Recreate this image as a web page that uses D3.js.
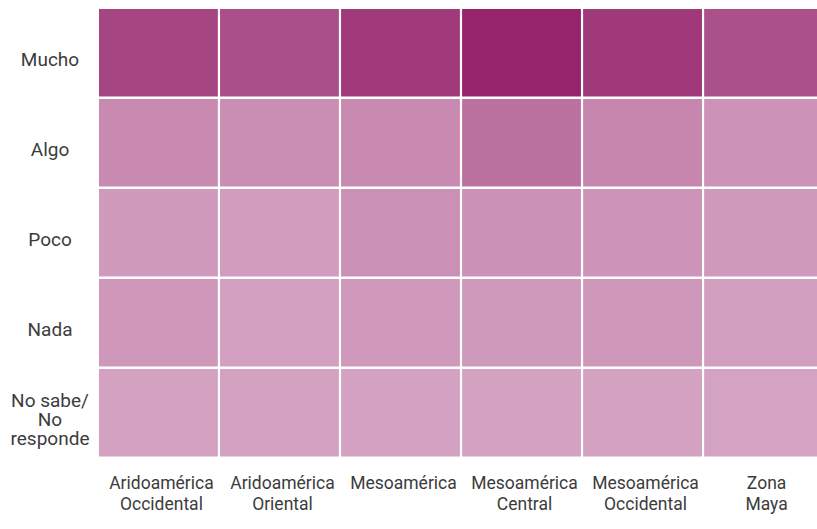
<!DOCTYPE html>
<html>
<head>
<meta charset="utf-8">
<script src="https://cdn.jsdelivr.net/npm/d3@7"></script>
<style>
  html, body { margin: 0; padding: 0; background: #fff; }
  svg { display: block; font-family: Roboto, "Noto Sans", sans-serif; }
</style>
</head>
<body>
<div id="chart"></div>
<script>
// regions (columns) and answers (rows)
const regions = [
  ["Aridoamérica", "Occidental"],
  ["Aridoamérica", "Oriental"],
  ["Mesoamérica"],
  ["Mesoamérica", "Central"],
  ["Mesoamérica", "Occidental"],
  ["Zona", "Maya"]
];
const answers = [
  ["Mucho"],
  ["Algo"],
  ["Poco"],
  ["Nada"],
  ["No sabe/", "No", "responde"]
];

// % of answers per region, one array per row
const mucho   = [56, 50, 62, 75, 63, 49];
const algo    = [15.5, 13, 15.5, 29.5, 18, 11];
const poco    = [6, 5, 12, 11.5, 9.5, 7];
const nada    = [7.5, 2.5, 6.5, 7, 7.5, 4];
const noSabe  = [2, 2, 1.8, 2, 2, 1.5];
const rowsVals = [mucho, algo, poco, nada, noSabe];

(() => {
  const W = 817, H = 529;
  const colKeys = regions.map(d => d.join(" "));
  const rowKeys = answers.map(d => d.join(" "));

  const cells = [];
  rowsVals.forEach((vals, i) => {
    vals.forEach((v, j) => cells.push({ row: rowKeys[i], col: colKeys[j], value: v }));
  });

  const x = d3.scaleBand().domain(colKeys).range([99, 823]).paddingInner(0.018);
  const y = d3.scaleBand().domain(rowKeys).range([9, 456.5]).paddingInner(0.028);
  const color = d3.scaleLinear()
    .domain(d3.extent(cells, d => d.value))
    .range(["#d4a2c2", "#95246b"])
    .interpolate(d3.interpolateRgb);

  const svg = d3.select("#chart").append("svg")
    .attr("width", W)
    .attr("height", H);

  svg.append("g")
    .selectAll("rect")
    .data(cells)
    .join("rect")
    .attr("x", d => x(d.col))
    .attr("y", d => y(d.row))
    .attr("width", x.bandwidth())
    .attr("height", y.bandwidth())
    .attr("fill", d => color(d.value));

  // row labels
  const lh = 19;
  const rowLab = svg.append("g")
    .selectAll("text")
    .data(answers)
    .join("text")
    .attr("text-anchor", "middle")
    .attr("fill", "#3c3c3c")
    .style("font-size", "19px")
    .attr("transform", (d, i) => `translate(50,${y(rowKeys[i]) + y.bandwidth() / 2 + 6.5})`);
  rowLab.selectAll("tspan")
    .data(d => d.map((t, k) => ({ t, k, n: d.length })))
    .join("tspan")
    .attr("x", 0)
    .attr("y", d => (d.k - (d.n - 1) / 2) * lh)
    .attr("dy", "0.35em")
    .text(d => d.t);

  // column labels
  const colLab = svg.append("g")
    .selectAll("text")
    .data(regions)
    .join("text")
    .attr("text-anchor", "middle")
    .attr("fill", "#3c3c3c")
    .style("font-size", "17.5px")
    .attr("transform", (d, i) => `translate(${x(colKeys[i]) + x.bandwidth() / 2 + 3},489)`);
  colLab.selectAll("tspan")
    .data(d => d.map((t, k) => ({ t, k })))
    .join("tspan")
    .attr("x", 0)
    .attr("y", d => d.k * 21)
    .text(d => d.t);
})();
</script>
</body>
</html>
